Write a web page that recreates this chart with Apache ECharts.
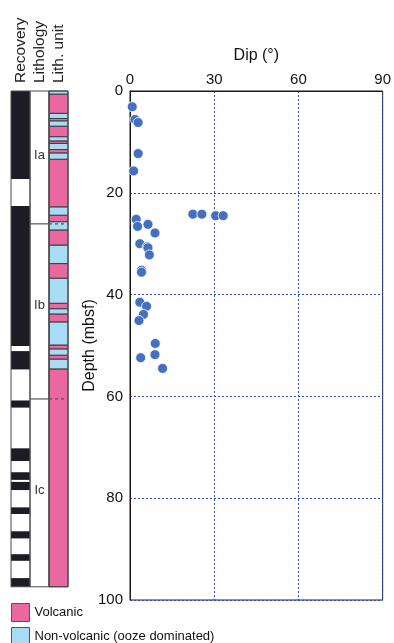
<!DOCTYPE html>
<html><head><meta charset="utf-8">
<script src="https://cdn.jsdelivr.net/npm/echarts@6/dist/echarts.min.js"></script>
<style>html,body{margin:0;padding:0;background:#fff}#c{width:394px;height:643px}</style>
</head><body><div id="c"></div>
<script>
// ---- data ----
const columns = ['Recovery', 'Lithology', 'Lith. unit'];
const coreBottom = 97.4;
const dipTicks = [0, 30, 60, 90];
const depthTicks = [0, 20, 40, 60, 80, 100];
const dips =   [0.8, 1.8, 2.9, 2.9, 1.3, 22.4, 25.6, 30.5, 33.2, 2.2, 2.7, 6.4, 8.9, 3.5, 6.1, 6.4, 6.9, 4.1, 4.1, 3.5, 5.9, 4.8, 3.2, 9.0, 3.8, 8.9, 11.6];
const depths = [3.1, 5.6, 6.2, 12.3, 15.7, 24.2, 24.2, 24.5, 24.5, 25.2, 26.6, 26.2, 27.9, 30.0, 30.6, 30.8, 32.2, 35.2, 35.6, 41.5, 42.3, 43.9, 45.1, 49.6, 52.4, 51.8, 54.5];
const recovered = [[0, 17.3], [22.6, 50.1], [51.1, 54.7], [60.8, 62.2], [70.2, 72.7], [74.9, 76.4], [76.8, 78.4], [81.8, 83.1], [86.5, 87.9], [91.0, 92.3], [95.7, 97.4]];
const lithLayers = [
  [0, 0.6, 'N'], [0.6, 4.4, 'V'], [4.4, 5.4, 'N'], [5.4, 5.9, 'V'], [5.9, 6.9, 'N'], [6.9, 9.0, 'V'],
  [9.0, 9.8, 'N'], [9.8, 10.3, 'V'], [10.3, 11.5, 'N'], [11.5, 12.2, 'V'], [12.2, 13.4, 'N'],
  [13.4, 22.8, 'V'], [22.8, 24.4, 'N'], [24.4, 25.7, 'V'], [25.7, 27.3, 'N'], [27.3, 30.3, 'V'],
  [30.3, 33.9, 'N'], [33.9, 36.8, 'V'], [36.8, 41.7, 'N'], [41.7, 42.8, 'V'], [42.8, 43.8, 'N'],
  [43.8, 45.4, 'V'], [45.4, 49.9, 'N'], [49.9, 50.7, 'V'], [50.7, 51.9, 'N'], [51.9, 52.7, 'V'],
  [52.7, 54.6, 'N'], [54.6, 97.4, 'V']
];
const unitBoundaries = [26.1, 60.5];
const unitNames = ['Ia', 'Ib', 'Ic'];
const unitLabelDepths = [12.6, 42.2, 78.4];
const volcanicName = 'Volcanic';
const nonVolcanicName = 'Non-volcanic (ooze dominated)';

// ---- chart ----
const FONT = '"Liberation Sans", Arial, Helvetica, sans-serif';
const chart = echarts.init(document.getElementById('c'), null, {renderer: 'canvas'});

function rectItem(stroke) {
  return function (params, api) {
    const w = api.size([1, 0])[0];
    const p1 = api.coord([api.value(0), api.value(1)]);
    const p2 = api.coord([api.value(0), api.value(2)]);
    return {
      type: 'rect',
      shape: {x: p1[0] - w / 2, y: p1[1], width: w, height: p2[1] - p1[1]},
      style: {fill: api.visual('color'), stroke: stroke, lineWidth: stroke ? 1 : 0}
    };
  };
}

const pointData = dips.map((d, i) => [d, depths[i]]);

const legendBase = {
  orient: 'vertical', left: 6, itemWidth: 18, itemHeight: 18, itemGap: 7,
  icon: 'rect',
  itemStyle: {borderColor: '#555', borderWidth: 1},
  textStyle: {fontSize: 13, color: '#111', fontFamily: FONT},
  selectedMode: false
};

const option = {
  animation: false,
  textStyle: {fontFamily: FONT},
  grid: [
    {left: 130, right: 9, top: 91, bottom: 43, show: true, borderColor: '#1a1a1a', borderWidth: 1, containLabel: false},
    {left: 11, width: 57, top: 91, bottom: 43, containLabel: false}
  ],
  xAxis: [
    {
      gridIndex: 0, type: 'value', min: dipTicks[0], max: dipTicks[dipTicks.length - 1], interval: 30,
      position: 'top',
      name: 'Dip (°)', nameLocation: 'middle', nameGap: 27, nameMoveOverlap: false,
      nameTextStyle: {fontSize: 16, color: '#111', fontFamily: FONT},
      axisLine: {show: true, lineStyle: {color: '#1a1a1a', width: 1}},
      axisTick: {show: false},
      axisLabel: {fontSize: 15, color: '#111', margin: 4, fontFamily: FONT},
      splitLine: {show: true, lineStyle: {color: '#2f4fb0', type: [2, 2], width: 1}}
    },
    {
      gridIndex: 1, type: 'category', data: columns, position: 'top',
      axisLine: {show: false}, axisTick: {show: false},
      axisLabel: {rotate: 90, fontSize: 15.5, color: '#222', margin: 8, fontFamily: FONT, interval: 0},
      splitLine: {show: false}
    }
  ],
  yAxis: [
    {
      gridIndex: 0, type: 'value', inverse: true, min: depthTicks[0], max: depthTicks[depthTicks.length - 1], interval: 20,
      name: 'Depth (mbsf)', nameLocation: 'middle', nameRotate: 90, nameGap: 32, nameMoveOverlap: false,
      nameTextStyle: {fontSize: 16, color: '#111', fontFamily: FONT},
      axisLine: {show: true, lineStyle: {color: '#1a1a1a', width: 1}},
      axisTick: {show: false},
      axisLabel: {fontSize: 15, color: '#111', margin: 7, fontFamily: FONT},
      splitLine: {show: true, lineStyle: {color: '#2f4fb0', type: [2, 2], width: 1}}
    },
    {
      gridIndex: 1, type: 'value', inverse: true, min: 0, max: 100, show: false
    }
  ],
  legend: [
    Object.assign({}, legendBase, {top: 598, data: [volcanicName]}),
    Object.assign({}, legendBase, {top: 622, data: [nonVolcanicName]})
  ],
  series: [
    {
      name: 'Recovery core', type: 'custom', xAxisIndex: 1, yAxisIndex: 1,
      itemStyle: {color: '#1d1b24'},
      renderItem: rectItem(null),
      data: recovered.map(r => [columns[0], r[0], r[1]]),
      z: 2
    },
    {
      name: volcanicName, type: 'custom', xAxisIndex: 1, yAxisIndex: 1,
      itemStyle: {color: '#e8689f'},
      renderItem: rectItem('#3c3c3c'),
      data: lithLayers.filter(l => l[2] === 'V').map(l => [columns[2], l[0], l[1]]),
      z: 2
    },
    {
      name: nonVolcanicName, type: 'custom', xAxisIndex: 1, yAxisIndex: 1,
      itemStyle: {color: '#a8dcf5'},
      renderItem: rectItem('#3c3c3c'),
      data: lithLayers.filter(l => l[2] === 'N').map(l => [columns[2], l[0], l[1]]),
      z: 2
    },
    {
      name: 'Column outline', type: 'custom', xAxisIndex: 1, yAxisIndex: 1,
      renderItem: function (params, api) {
        const w = api.size([1, 0])[0];
        const p1 = api.coord([api.value(0), 0]);
        const p2 = api.coord([api.value(0), api.value(1)]);
        return {type: 'rect', shape: {x: p1[0] - w / 2, y: p1[1], width: w, height: p2[1] - p1[1]},
          style: {fill: 'none', stroke: '#4a4a4a', lineWidth: 1}};
      },
      data: columns.map(c => [c, coreBottom]),
      z: 3
    },
    {
      name: 'Unit boundaries', type: 'custom', xAxisIndex: 1, yAxisIndex: 1,
      renderItem: function (params, api) {
        const w = api.size([1, 0])[0];
        const a = api.coord([1, api.value(0)]);
        const b = api.coord([2, api.value(0)]);
        return {type: 'group', children: [
          {type: 'line', shape: {x1: a[0] - w / 2, y1: a[1], x2: a[0] + w / 2, y2: a[1]}, style: {stroke: '#555', lineWidth: 1.2}},
          {type: 'line', shape: {x1: b[0] - w / 2, y1: b[1], x2: b[0] + w / 2, y2: b[1]}, style: {stroke: '#555', lineWidth: 1.2, lineDash: [3, 3]}}
        ]};
      },
      data: unitBoundaries.map(d => [d]),
      z: 4
    },
    {
      name: 'Unit labels', type: 'custom', xAxisIndex: 1, yAxisIndex: 1,
      renderItem: function (params, api) {
        const p = api.coord([1, api.value(1)]);
        return {type: 'text', x: p[0], y: p[1],
          style: {text: unitNames[params.dataIndex], fill: '#333', font: '13px ' + FONT, align: 'center', verticalAlign: 'middle'}};
      },
      data: unitLabelDepths.map((d, i) => [columns[1], d]),
      z: 4
    },
    {
      name: 'Dip', type: 'scatter', xAxisIndex: 0, yAxisIndex: 0,
      symbolSize: 10,
      itemStyle: {color: '#4570c0', borderColor: '#ffffff', borderWidth: 0.8, opacity: 1},
      data: pointData,
      z: 5
    }
  ]
};
chart.setOption(option);
</script>
</body></html>
